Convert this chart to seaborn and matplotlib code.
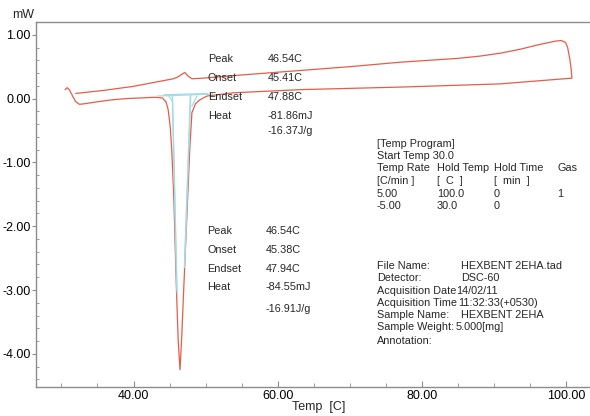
import numpy as np
import pandas as pd
import matplotlib
matplotlib.use("Agg")
import matplotlib.pyplot as plt
from matplotlib.ticker import MultipleLocator, FormatStrFormatter
import seaborn as sns

# DSC trace: heating 30 -> 100 C, then cooling back to 32 C
heat_temp = [30.5, 30.8, 31.1, 31.6, 32.0, 32.5, 33.3, 35.0, 37.0, 39.0, 41.0,
             43.0, 44.0, 44.5, 44.8, 45.1, 45.3, 45.6, 45.8, 46.0, 46.2, 46.45,
             46.7, 46.9, 47.1, 47.5, 47.8, 48.1, 48.6, 49.2, 50.2, 53.8, 63.1,
             77.0, 90.8, 100.8]
heat_mw = [0.14, 0.17, 0.14, 0.03, -0.05, -0.09, -0.08, -0.05, -0.02, 0.00, 0.01,
           0.02, 0.01, -0.05, -0.17, -0.45, -0.80, -1.58, -2.40, -3.15, -3.80, -4.25,
           -3.70, -3.15, -2.63, -1.58, -0.80, -0.22, -0.08, -0.02, 0.04, 0.09, 0.14,
           0.18, 0.23, 0.32]
cool_temp = [100.8, 100.7, 100.5, 100.2, 99.9, 99.3, 98.5, 96.4, 93.5, 90.8, 88.0,
             85.0, 77.0, 70.0, 63.1, 55.0, 49.6, 48.1, 47.6, 47.1, 46.7, 46.0,
             45.5, 39.9, 36.0, 32.0]
cool_mw = [0.32, 0.45, 0.62, 0.80, 0.88, 0.91, 0.90, 0.85, 0.77, 0.71, 0.665,
           0.63, 0.57, 0.50, 0.44, 0.37, 0.32, 0.31, 0.35, 0.41, 0.38, 0.33,
           0.31, 0.19, 0.13, 0.08]

# peak analysis lines (baseline + onset/endset tangents), two analyses
seg_id = ["b1", "b1", "b2", "b2", "on1", "on1", "on2", "on2",
          "end1", "end1", "end2", "end2", "l", "l", "r", "r"]
seg_temp = [43.3, 51.0, 44.2, 50.3, 45.41, 46.05, 45.38, 46.0,
            47.88, 47.05, 47.94, 47.1, 44.8, 45.3, 48.8, 48.1]
seg_mw = [0.04, 0.07, 0.06, 0.08, 0.05, -3.05, 0.05, -3.0,
          0.05, -2.65, 0.05, -2.6, 0.06, -0.03, 0.04, -0.12]

peak1 = [("Peak", "46.54C"), ("Onset", "45.41C"), ("Endset", "47.88C"),
         ("Heat", "-81.86mJ"), ("", "-16.37J/g")]
peak2 = [("Peak", "46.54C"), ("Onset", "45.38C"), ("Endset", "47.94C"),
         ("Heat", "-84.55mJ"), ("", "-16.91J/g")]
program_head = ["[Temp Program]", "Start Temp 30.0"]
program_cols = [["Temp Rate", "Hold Temp", "Hold Time", "Gas"],
                ["[C/min ]", "[  C  ]", "[  min  ]", ""],
                ["5.00", "100.0", "0", "1"],
                ["-5.00", "30.0", "0", ""]]
file_info = [("File Name:", "HEXBENT 2EHA.tad"), ("Detector:", "DSC-60"),
             ("Acquisition Date", "14/02/11"), ("Acquisition Time", "11:32:33(+0530)"),
             ("Sample Name:", "HEXBENT 2EHA"), ("Sample Weight:", "5.000[mg]"),
             ("Annotation:", "")]

sns.set_style("white")
plt.rcParams["font.family"] = ["Liberation Sans", "DejaVu Sans"]

W, H = 590, 416
fig = plt.figure(figsize=(W / 100, H / 100), dpi=100)
ax = fig.add_axes([36 / W, 1 - 387 / H, 1 - 36 / W, (387 - 22) / H])

red = "#e65c48"
cyan = "#a3dbe8"

trace = pd.DataFrame({"temp": heat_temp + cool_temp, "mw": heat_mw + cool_mw})
segs = pd.DataFrame({"seg": seg_id, "temp": seg_temp, "mw": seg_mw})

sns.lineplot(data=trace, x="temp", y="mw", sort=False, estimator=None,
             color=red, linewidth=0.9, ax=ax)
sns.lineplot(data=segs, x="temp", y="mw", units="seg", sort=False, estimator=None,
             color=cyan, linewidth=0.9, ax=ax)

ax.set_xlim(26.48, 103.3)
ax.set_ylim(-4.52, 1.2)
ax.set_xlabel("")
ax.set_ylabel("")
ax.xaxis.set_major_locator(MultipleLocator(20))
ax.xaxis.set_minor_locator(MultipleLocator(5))
ax.yaxis.set_major_locator(MultipleLocator(1))
ax.yaxis.set_minor_locator(MultipleLocator(0.2))
ax.xaxis.set_major_formatter(FormatStrFormatter("%.2f"))
ax.yaxis.set_major_formatter(FormatStrFormatter("%.2f"))

spine_col = "#8c8c8c"
for side in ["left", "bottom", "top"]:
    ax.spines[side].set_color(spine_col)
    ax.spines[side].set_linewidth(1.0)
ax.spines["right"].set_visible(False)

ax.tick_params(axis="y", which="major", direction="out", length=3, pad=1,
               color=spine_col, labelsize=9, labelcolor="black", left=True)
ax.tick_params(axis="y", which="minor", direction="in", length=2.5,
               color=spine_col, left=True)
ax.tick_params(axis="x", which="major", direction="in", length=4, pad=2,
               color=spine_col, labelsize=9, labelcolor="black", bottom=True)
ax.tick_params(axis="x", which="minor", direction="in", length=3,
               color=spine_col, bottom=True)


def put(x, y, s, **kw):
    fig.text(x / W, 1 - y / H, s, va="center", ha=kw.pop("ha", "left"),
             fontsize=kw.pop("fontsize", 7.8), **kw)


put(23, 15, "mW", ha="center", fontsize=9)
put(319, 407, "Temp  [C]", ha="center", fontsize=9)

for (lab, val), y in zip(peak1, [59, 78, 97, 116, 131]):
    put(208, y, lab)
    put(268, y, val)
for (lab, val), y in zip(peak2, [231, 250, 269, 287, 309]):
    put(207, y, lab)
    put(266, y, val)

for s, y in zip(program_head, [144, 156]):
    put(377, y, s)
col_x = [377, 437, 494, 557]
for row, y in zip(program_cols, [168.5, 181.5, 193.5, 206]):
    for s, x in zip(row, col_x):
        put(x, y, s)

val_x = [461, 461, 456, 458, 461, 456, 461]
for (lab, val), y, vx in zip(file_info, [266, 278, 290.5, 302.5, 315, 327.5, 341], val_x):
    put(377, y, lab)
    put(vx, y, val)

fig.savefig("out.png", dpi=100)
